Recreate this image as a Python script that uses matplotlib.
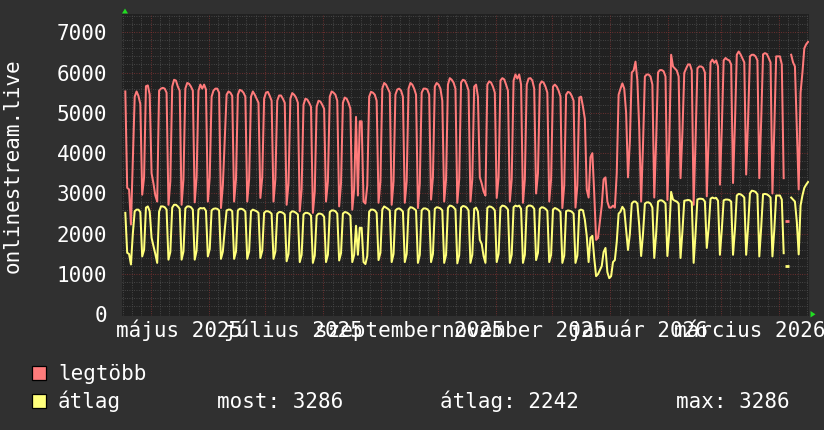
import numpy as np
import matplotlib
matplotlib.use("Agg")
import matplotlib.pyplot as plt
import matplotlib.dates as mdates
import matplotlib.transforms as mtransforms
from matplotlib.patches import Rectangle, Polygon
from datetime import datetime, timedelta

nan = float("nan")

# ---------------- data (daily values, weeks Mon..Sun starting 2025-04-14) ----------------
first_monday = "2025-04-14"

legtobb_weeks = [
    [nan, nan, nan, 5530, 3140, 3100, 2230],
    [3800, 5400, 5530, 5420, 5220, 2970, 3400],
    [5660, 5680, 5450, 3500, 3250, 2950, 2800],
    [5550, 5600, 5620, 5600, 5500, 2720, 3300],
    [5650, 5820, 5800, 5650, 5550, 2720, 3350],
    [5600, 5740, 5720, 5650, 5550, 2780, 3400],
    [5550, 5700, 5600, 5700, 5580, 2800, 3400],
    [5400, 5550, 5600, 5600, 5500, 2640, 3200],
    [4300, 5450, 5530, 5500, 5420, 2800, 3350],
    [5450, 5570, 5550, 5500, 5400, 2800, 3350],
    [5400, 5530, 5450, 5350, 5250, 2890, 3400],
    [5350, 5500, 5520, 5420, 5300, 2800, 3350],
    [5300, 5430, 5430, 5350, 5250, 2720, 3250],
    [5350, 5490, 5450, 5380, 5250, 2560, 3100],
    [5200, 5350, 5330, 5250, 5150, 2520, 3050],
    [5150, 5300, 5280, 5200, 5100, 2800, 3300],
    [5400, 5530, 5500, 5450, 5300, 2680, 3250],
    [5250, 5380, 5350, 5250, 5100, 2600, 3100],
    [4900, 2950, 4790, 4790, 2800, 2750, 3200],
    [5400, 5520, 5500, 5450, 5300, 2770, 3300],
    [5600, 5740, 5700, 5600, 5500, 2720, 3300],
    [5450, 5580, 5600, 5550, 5400, 2770, 3300],
    [5600, 5740, 5700, 5600, 5450, 2640, 3250],
    [5500, 5600, 5600, 5580, 5450, 2850, 3400],
    [5650, 5740, 5700, 5600, 5300, 2800, 3350],
    [5700, 5860, 5820, 5750, 5600, 2770, 3350],
    [5750, 5820, 5800, 5700, 5550, 2800, 3350],
    [5650, 5700, 5400, 3400, 3250, 3050, 2950],
    [5700, 5780, 5750, 5650, 5500, 2890, 3400],
    [5800, 5860, 5830, 5700, 5550, 2800, 3350],
    [5800, 5950, 5850, 5950, 5700, 2770, 3350],
    [5700, 5850, 5860, 5800, 5600, 3000, 3500],
    [5700, 5780, 5750, 5650, 5500, 2800, 3350],
    [5650, 5700, 5650, 5550, 5400, 2640, 3200],
    [5450, 5520, 5500, 5420, 5300, 2650, 3200],
    [5380, 5400, 5150, 4850, 3100, 2900, 3900],
    [4000, 3000, 1850, 1900, 2300, 2700, 3350],
    [3400, 2800, 2650, 2650, 2700, 2650, 3500],
    [5450, 5600, 5730, 5600, 5000, 3400, 4300],
    [6000, 6050, 6270, 5800, 4600, 2800, 4200],
    [5900, 5950, 5950, 5900, 5700, 2900, 4300],
    [6000, 6060, 6060, 6030, 5900, 2840, 4300],
    [6440, 6150, 6100, 6050, 5900, 3380, 4500],
    [5990, 6100, 6200, 6200, 6050, 2720, 4300],
    [6100, 6150, 6150, 6120, 6000, 2930, 4400],
    [6250, 6320, 6240, 6300, 6150, 3220, 4600],
    [6300, 6360, 6320, 6300, 6200, 3260, 4700],
    [6440, 6520, 6450, 6350, 6250, 3470, 4800],
    [6400, 6440, 6440, 6400, 6300, 3380, 4800],
    [6450, 6480, 6460, 6360, 6250, 3000, 4600],
    [6400, 6400, 6400, 6200, 3380, nan, 2330],
    [nan, 6440, 6250, 6150, 4600, 3100, 5500],
    [6000, 6600, 6700, 6760],
]

atlag_weeks = [
    [nan, nan, nan, 2520, 1530, 1500, 1240],
    [2000, 2560, 2600, 2600, 2540, 1440, 1600],
    [2650, 2680, 2560, 1900, 1700, 1500, 1280],
    [2550, 2680, 2680, 2660, 2600, 1360, 1550],
    [2650, 2720, 2720, 2680, 2620, 1360, 1560],
    [2630, 2680, 2680, 2660, 2600, 1360, 1580],
    [2600, 2640, 2630, 2640, 2570, 1440, 1620],
    [2580, 2620, 2630, 2620, 2580, 1380, 1560],
    [2100, 2580, 2600, 2600, 2560, 1380, 1560],
    [2580, 2620, 2620, 2600, 2550, 1380, 1560],
    [2560, 2600, 2580, 2560, 2520, 1400, 1580],
    [2520, 2560, 2560, 2540, 2500, 1380, 1560],
    [2500, 2540, 2540, 2520, 2480, 1320, 1500],
    [2520, 2560, 2550, 2520, 2480, 1300, 1480],
    [2480, 2520, 2520, 2500, 2450, 1280, 1460],
    [2450, 2500, 2500, 2480, 2420, 1300, 1480],
    [2540, 2580, 2580, 2560, 2500, 1340, 1520],
    [2500, 2540, 2530, 2500, 2450, 1300, 1480],
    [2200, 1480, 2150, 2150, 1300, 1250, 1450],
    [2550, 2600, 2600, 2580, 2520, 1350, 1530],
    [2600, 2680, 2650, 2620, 2580, 1300, 1500],
    [2580, 2620, 2630, 2600, 2550, 1300, 1500],
    [2600, 2660, 2650, 2620, 2580, 1280, 1480],
    [2580, 2630, 2630, 2610, 2560, 1300, 1500],
    [2620, 2660, 2650, 2630, 2580, 1280, 1480],
    [2640, 2700, 2690, 2660, 2600, 1270, 1470],
    [2650, 2690, 2680, 2650, 2580, 1280, 1480],
    [2620, 2650, 2550, 1850, 1750, 1450, 1280],
    [2640, 2680, 2670, 2640, 2580, 1300, 1500],
    [2650, 2700, 2690, 2660, 2600, 1280, 1480],
    [2660, 2700, 2680, 2700, 2620, 1280, 1480],
    [2660, 2700, 2700, 2680, 2620, 1350, 1530],
    [2620, 2660, 2650, 2620, 2570, 1300, 1480],
    [2600, 2640, 2620, 2590, 2540, 1280, 1460],
    [2560, 2580, 2570, 2550, 2500, 1280, 1460],
    [2580, 2600, 2580, 2350, 1950, 1300, 1900],
    [1950, 1400, 950, 1000, 1100, 1200, 1550],
    [1650, 1050, 900, 950, 1300, 1350, 1800],
    [2500, 2550, 2670, 2600, 2100, 1600, 2000],
    [2750, 2800, 2800, 2750, 2200, 1450, 2000],
    [2750, 2780, 2780, 2750, 2650, 1400, 2000],
    [2800, 2830, 2830, 2800, 2750, 1450, 2050],
    [3040, 2850, 2820, 2800, 2750, 1400, 2050],
    [2820, 2830, 2840, 2830, 2780, 1280, 2000],
    [2850, 2870, 2870, 2860, 2800, 1650, 2150],
    [2870, 2900, 2880, 2890, 2820, 1480, 2100],
    [2830, 2850, 2850, 2840, 2800, 1480, 2100],
    [2950, 2990, 2980, 2950, 2900, 1480, 2150],
    [3000, 3070, 3060, 3040, 2980, 1440, 2150],
    [2980, 2990, 2980, 2950, 2900, 1440, 2100],
    [2950, 2950, 2950, 2850, 1520, nan, 1200],
    [nan, 2900, 2850, 2800, 2300, 1490, 2700],
    [2950, 3140, 3220, 3286],
]

y_ticks = [0, 1000, 2000, 3000, 4000, 5000, 6000, 7000]
x_label_texts = ["május 2025", "július 2025", "szeptember 2025",
                 "november 2025", "január 2026", "március 2026"]
x_label_months = ["2025-05-01", "2025-07-01", "2025-09-01",
                  "2025-11-01", "2026-01-01", "2026-03-01"]
x_range = ["2025-04-16", "2026-04-17"]
y_axis_title = "onlinestream.live"
series_names = ["legtöbb", "átlag"]
stat_texts = ["most: 3286", "átlag: 2242", "max: 3286"]

# ---------------- style ----------------
W, H = 824, 430
BG = "#303030"
CANVAS = "#212121"
RED = "#ff7b7b"
YEL = "#ffff7b"
MINOR = "#4d4d4d"
MAJOR = "#7a3232"
FONT = "DejaVu Sans Mono"
FS = 15

plt.rcParams["font.family"] = [FONT, "DejaVu Sans"]

def px(x, y):
    return (x / W, 1 - y / H)

red = np.array([v for w in legtobb_weeks for v in w], dtype=float)
yel = np.array([v for w in atlag_weeks for v in w], dtype=float)
t0 = datetime.strptime(first_monday, "%Y-%m-%d") + timedelta(hours=12)
t = np.array([mdates.date2num(t0 + timedelta(days=i)) for i in range(len(red))])

fig = plt.figure(figsize=(W / 100, H / 100), dpi=100, facecolor=BG)
left, right, top, bottom = 122.5, 809.0, 13.5, 315.5
ax = fig.add_axes([left / W, 1 - bottom / H, (right - left) / W, (bottom - top) / H])
ax.set_facecolor(CANVAS)
for s in ax.spines.values():
    s.set_visible(False)

xmin = mdates.date2num(datetime.strptime(x_range[0], "%Y-%m-%d"))
xmax = mdates.date2num(datetime.strptime(x_range[1], "%Y-%m-%d"))
ax.set_xlim(xmin, xmax)
ax.set_ylim(-25, 7463)

# grid
dash = (0, (0.75, 1.5))
d0 = datetime.strptime(x_range[0], "%Y-%m-%d")
major_x, minor_x = [], []
for i in range(0, 368):
    d = d0 + timedelta(days=i)
    n = mdates.date2num(d)
    if n < xmin or n > xmax:
        continue
    if d.day == 1:
        major_x.append(n)
    elif d.day in (6, 11, 16, 21, 26):
        minor_x.append(n)
minor_y = [v for v in range(200, 7463, 200) if v % 1000 != 0]
major_y = [v for v in y_ticks if v > 0]
for xv in minor_x:
    ax.axvline(xv, color=MINOR, lw=0.75, ls=dash, zorder=1)
for yv in minor_y:
    ax.axhline(yv, color=MINOR, lw=0.75, ls=dash, zorder=1)
for xv in major_x:
    ax.axvline(xv, color=MAJOR, lw=0.75, ls=dash, zorder=1.5)
for yv in major_y:
    ax.axhline(yv, color=MAJOR, lw=0.75, ls=dash, zorder=1.5)

# lines
for vals, col, z in ((red, RED, 3), (yel, YEL, 4)):
    ax.plot(t, vals, color=col, lw=1.45, zorder=z, solid_joinstyle="round")
    fin = np.isfinite(vals)
    iso = []
    for i in range(len(vals)):
        if fin[i]:
            lft = i > 0 and fin[i - 1]
            rgt = i < len(vals) - 1 and fin[i + 1]
            if not lft and not rgt:
                iso.append(i)
    if iso:
        ax.plot(t[iso], vals[iso], ls="none", marker="_", ms=3, mew=2,
                color=col, zorder=z)

# y ticks
ax.set_yticks(y_ticks)
ax.set_yticklabels([str(v) for v in y_ticks])
ax.tick_params(axis="y", length=0, pad=11, labelsize=FS, labelcolor="white")
ax.set_xticks([])

# x labels centered mid-month
trans = mtransforms.blended_transform_factory(ax.transData, fig.transFigure)
for txt, m in zip(x_label_texts, x_label_months):
    xm = mdates.date2num(datetime.strptime(m, "%Y-%m-%d")) + 15.3
    ax.text(xm, 1 - 337.3 / H, txt, transform=trans, ha="center", va="baseline",
            color="white", fontsize=FS, clip_on=False)

# y axis title
fig.text(13 / W, 1 - 166 / H, y_axis_title, rotation=90, ha="center", va="center",
         color="white", fontsize=FS)

# green arrows
GREEN = "#22dd22"
fig.patches.append(Polygon([px(122, 13.5), px(128, 13.5), px(125, 8.5)], closed=True,
                           facecolor=GREEN, edgecolor="none", transform=fig.transFigure))
fig.patches.append(Polygon([px(810.5, 311), px(810.5, 317.5), px(815.5, 314.3)], closed=True,
                           facecolor=GREEN, edgecolor="none", transform=fig.transFigure))

# legend
rows = [(366, 380.0, RED), (394, 408.3, YEL)]
for (ytop, base, col), name in zip(rows, series_names):
    x0, y0 = px(32, ytop + 14)
    fig.patches.append(Rectangle((x0, y0), 14 / W, 14 / H, facecolor=col,
                                 edgecolor="black", lw=0.9, transform=fig.transFigure))
    fig.text(58 / W, 1 - base / H, name, ha="left", va="baseline", color="white",
             fontsize=FS)
for txt, xs in zip(stat_texts, [216.5, 439.5, 676]):
    fig.text(xs / W, 1 - 408.3 / H, txt, ha="left", va="baseline", color="white",
             fontsize=FS)

fig.savefig("out.png", dpi=100, facecolor=BG)
